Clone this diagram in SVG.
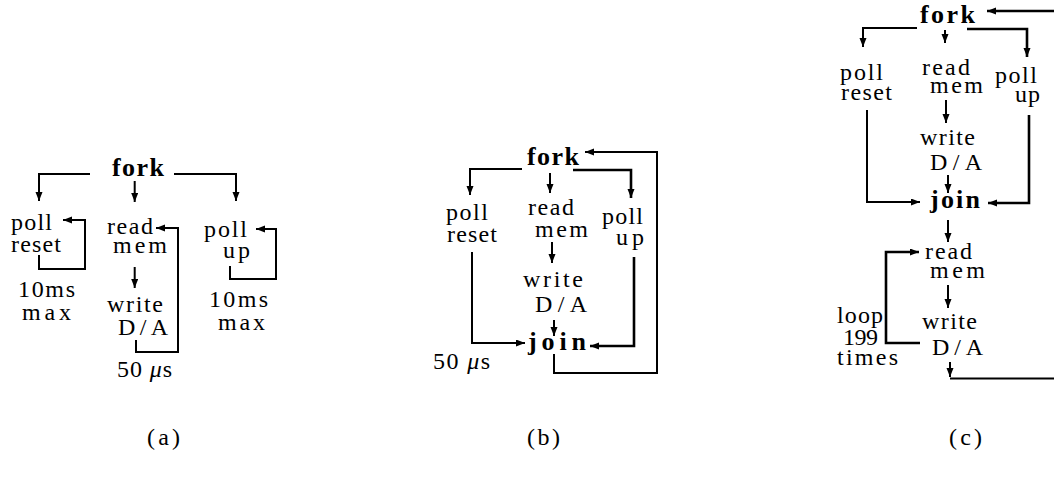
<svg xmlns="http://www.w3.org/2000/svg" width="1054" height="481" viewBox="0 0 1054 481">
<style>
text{font-family:'Liberation Serif','DejaVu Serif',serif;font-size:24px;fill:#000}
.b{font-weight:bold;font-size:26px}
.c path{fill:none;stroke:#000;stroke-width:2}
.c path.t{stroke-width:2.6}
.c path.a{marker-end:url(#ah)}
</style>
<defs>
<marker id="ah" markerUnits="userSpaceOnUse" markerWidth="10" markerHeight="8" refX="9" refY="3.5" orient="auto">
<path d="M0,0 L9,3.5 L0,7 z" fill="#000"/>
</marker>
</defs>
<rect width="1054" height="481" fill="#fff"/>

<!-- Panel (a) -->
<g id="a-fork"><text class="b" x="112" y="176" textLength="52" lengthAdjust="spacing">fork</text></g>
<g id="a-pollreset"><text x="11" y="230" textLength="41" lengthAdjust="spacing">poll</text><text x="11" y="252" textLength="50" lengthAdjust="spacing">reset</text></g>
<g id="a-10ms-1"><text x="18" y="297" textLength="57" lengthAdjust="spacing">10ms</text><text x="22" y="320" textLength="49" lengthAdjust="spacing">max</text></g>
<g id="a-readmem"><text x="107" y="234" textLength="46" lengthAdjust="spacing">read</text><text x="113" y="253" textLength="54" lengthAdjust="spacing">mem</text></g>
<g id="a-writeda"><text x="107" y="312" textLength="56" lengthAdjust="spacing">write</text><text x="118" y="335" textLength="50" lengthAdjust="spacing">D/A</text></g>
<g id="a-50us"><text x="117" y="377" textLength="55" lengthAdjust="spacing">50 <tspan font-style="italic">μ</tspan>s</text></g>
<g id="a-pollup"><text x="204" y="237" textLength="43" lengthAdjust="spacing">poll</text><text x="223" y="258" textLength="27" lengthAdjust="spacing">up</text></g>
<g id="a-10ms-2"><text x="209" y="307" textLength="59" lengthAdjust="spacing">10ms</text><text x="218" y="330" textLength="47" lengthAdjust="spacing">max</text></g>
<g id="a-label"><text x="147" y="445" textLength="33" lengthAdjust="spacing">(a)</text></g>

<!-- Panel (b) -->
<g id="b-fork"><text class="b" x="527" y="165" textLength="52" lengthAdjust="spacing">fork</text></g>
<g id="b-pollreset"><text x="446" y="220" textLength="42" lengthAdjust="spacing">poll</text><text x="447" y="242" textLength="50" lengthAdjust="spacing">reset</text></g>
<g id="b-readmem"><text x="528" y="215" textLength="46" lengthAdjust="spacing">read</text><text x="535" y="237" textLength="53" lengthAdjust="spacing">mem</text></g>
<g id="b-pollup"><text x="602" y="224" textLength="41" lengthAdjust="spacing">poll</text><text x="616" y="245" textLength="28" lengthAdjust="spacing">up</text></g>
<g id="b-writeda"><text x="523" y="287" textLength="60" lengthAdjust="spacing">write</text><text x="535" y="312" textLength="52" lengthAdjust="spacing">D/A</text></g>
<g id="b-join"><text class="b" x="528" y="350" textLength="58" lengthAdjust="spacing">join</text></g>
<g id="b-50us"><text x="433" y="369" textLength="57" lengthAdjust="spacing">50 <tspan font-style="italic">μ</tspan>s</text></g>
<g id="b-label"><text x="527" y="445" textLength="33" lengthAdjust="spacing">(b)</text></g>

<!-- Panel (c) -->
<g id="c-fork"><text class="b" x="920" y="23" textLength="55" lengthAdjust="spacing">fork</text></g>
<g id="c-pollreset"><text x="840" y="80" textLength="43" lengthAdjust="spacing">poll</text><text x="841" y="100" textLength="51" lengthAdjust="spacing">reset</text></g>
<g id="c-readmem1"><text x="922" y="75" textLength="48" lengthAdjust="spacing">read</text><text x="930" y="93" textLength="53" lengthAdjust="spacing">mem</text></g>
<g id="c-pollup"><text x="995" y="83" textLength="42" lengthAdjust="spacing">poll</text><text x="1015" y="102" textLength="25" lengthAdjust="spacing">up</text></g>
<g id="c-writeda1"><text x="920" y="145" textLength="55" lengthAdjust="spacing">write</text><text x="930" y="170" textLength="52" lengthAdjust="spacing">D/A</text></g>
<g id="c-join"><text class="b" x="930" y="208" textLength="50" lengthAdjust="spacing">join</text></g>
<g id="c-readmem2"><text x="925" y="259" textLength="47" lengthAdjust="spacing">read</text><text x="930" y="278" textLength="55" lengthAdjust="spacing">mem</text></g>
<g id="c-writeda2"><text x="922" y="329" textLength="55" lengthAdjust="spacing">write</text><text x="932" y="355" textLength="51" lengthAdjust="spacing">D/A</text></g>
<g id="c-loop"><text x="837" y="323" textLength="46" lengthAdjust="spacing">loop</text><text x="843" y="345" textLength="35" lengthAdjust="spacing">199</text><text x="837" y="365" textLength="61" lengthAdjust="spacing">times</text></g>
<g id="c-label"><text x="949" y="445" textLength="33" lengthAdjust="spacing">(c)</text></g>

<g id="connectors" class="c">
<!-- (a) -->
<path class="a" d="M90,174 H39 V201"/>
<path class="a" d="M134.7,181 V202"/>
<path class="a" d="M174,174 H236 V201"/>
<path class="a" d="M39,255 V269 H85 V220 H63"/>
<path class="a" d="M134.7,267 V288"/>
<path class="a" d="M136,340 V352 H178 V228 H156"/>
<path class="a" d="M230,266 V279 H276 V229 H256"/>
<!-- (b) -->
<path class="a" d="M522,169 H470 V195"/>
<path class="a" d="M550,173 V193"/>
<path class="a t" d="M573,170 H631 V198"/>
<path class="a" d="M554,354 V373 H657 V152 H585"/>
<path class="a" d="M472,252 V343 H525"/>
<path class="a t" d="M634,257 V346 H590"/>
<path class="a" d="M552,242 V263"/>
<path class="a" d="M554,320 V336"/>
<!-- (c) -->
<path class="a t" d="M1054,11 H987"/>
<path class="a" d="M917,28 H863 V47"/>
<path class="a" d="M945,30 V43"/>
<path class="a t" d="M967,29 H1027 V57"/>
<path class="a" d="M946,100 V123"/>
<path class="a" d="M948,175 V193"/>
<path class="a" d="M867,110 V202 H920"/>
<path class="a t" d="M1029,115 V203 H988"/>
<path class="a" d="M948,220 V242"/>
<path class="a" d="M948,285 V308"/>
<path class="a t" d="M920,343 H886 V252 H919"/>
<path class="a" d="M950,362 V377"/>
<path d="M950,378.5 H1054"/>
</g>
</svg>
